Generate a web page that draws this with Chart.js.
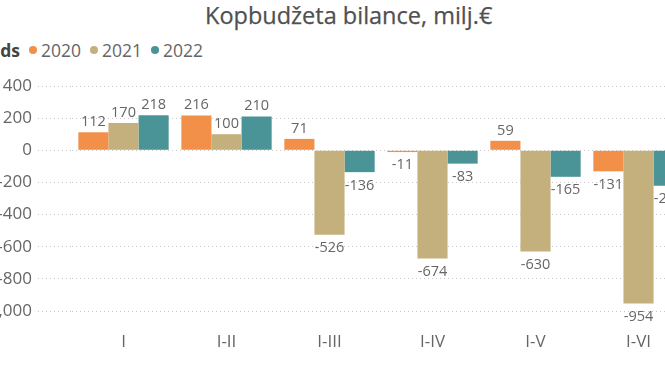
<!DOCTYPE html>
<html>
<head>
<meta charset="utf-8">
<script src="https://cdn.jsdelivr.net/npm/chart.js@4/dist/chart.umd.min.js"></script>
<style>
  html, body { margin: 0; padding: 0; background: #fff; }
  body { width: 665px; height: 375px; overflow: hidden; position: relative; font-family: 'Open Sans', sans-serif; }
  #title { position: absolute; left: 205px; top: -1px; font-size: 23.5px; color: #505050; white-space: nowrap; line-height: 32px; -webkit-text-stroke: 0.25px #505050; }
  #legend { position: absolute; left: -23px; top: 38px; font-size: 17.5px; color: #666; white-space: nowrap; line-height: 24px; display: flex; align-items: center; }
  #legend b { color: #444; margin-right: 9px; }
  #legend .item { display: flex; align-items: center; margin-right: 9px; }
  #legend .dot { width: 8px; height: 8px; border-radius: 50%; margin-right: 4px; }
  #wrap { position: absolute; left: -40px; top: 0; width: 730px; height: 375px; }
</style>
</head>
<body>
<div id="title">Kopbudžeta bilance, milj.€</div>
<div id="legend"></div>
<div id="wrap"><canvas id="chart" width="730" height="375"></canvas></div>
<script>
  var categories = ['I', 'I-II', 'I-III', 'I-IV', 'I-V', 'I-VI'];
  var years = ['2020', '2021', '2022'];
  var values2020 = [112, 216, 71, -11, 59, -131];
  var values2021 = [170, 100, -526, -674, -630, -954];
  var values2022 = [218, 210, -136, -83, -165, -221];
  var colors = ['#F2904A', '#C4B07C', '#4A9396'];
  var yTicks = [400, 200, 0, -200, -400, -600, -800, -1000];

  // legend (html, Power BI style: title then dots in one row)
  var legend = document.getElementById('legend');
  var html = '<b>Gads</b>';
  years.forEach(function (y, i) {
    html += '<span class="item"><span class="dot" style="background:' + colors[i] + '"></span>' + y + '</span>';
  });
  legend.innerHTML = html;

  var valueLabels = {
    id: 'valueLabels',
    afterDatasetsDraw: function (chart) {
      var ctx = chart.ctx;
      ctx.save();
      ctx.font = '14.5px "Open Sans"';
      ctx.fillStyle = '#666';
      ctx.textAlign = 'center';
      chart.data.datasets.forEach(function (ds, di) {
        chart.getDatasetMeta(di).data.forEach(function (bar, i) {
          var v = ds.data[i];
          if (v >= 0) {
            ctx.textBaseline = 'bottom';
            ctx.fillText(String(v), bar.x, bar.y - 3);
          } else {
            ctx.textBaseline = 'top';
            ctx.fillText(String(v), bar.x, bar.y + 6);
          }
        });
      });
      ctx.restore();
    }
  };

  var dotted = [1, 3];
  new Chart(document.getElementById('chart'), {
    type: 'bar',
    data: {
      labels: categories,
      datasets: [
        { label: years[0], data: values2020, backgroundColor: colors[0] },
        { label: years[1], data: values2021, backgroundColor: colors[1] },
        { label: years[2], data: values2022, backgroundColor: colors[2] }
      ]
    },
    options: {
      responsive: false,
      animation: false,
      layout: { padding: { top: 86, right: 0, bottom: 0, left: 0 } },
      datasets: { bar: { categoryPercentage: 0.877, barPercentage: 1 } },
      plugins: { legend: { display: false }, title: { display: false }, tooltip: { enabled: false } },
      scales: {
        x: {
          grid: { display: false, drawTicks: false },
          border: { display: false },
          ticks: { color: '#666', font: { family: 'Open Sans', size: 17 }, padding: 21, maxRotation: 0 },
          afterFit: function (s) { s.height = 64; }
        },
        y: {
          min: yTicks[yTicks.length - 1],
          max: yTicks[0],
          afterBuildTicks: function (s) { s.ticks = yTicks.map(function (v) { return { value: v }; }); },
          grid: { color: '#c8c8c8', tickColor: '#c8c8c8', tickLength: 34, tickBorderDash: dotted },
          border: { display: false, dash: dotted },
          ticks: { color: '#666', font: { family: 'Open Sans', size: 17 }, padding: 6 },
          afterFit: function (s) { s.width = 112; }
        }
      }
    },
    plugins: [valueLabels]
  });
</script>
</body>
</html>
